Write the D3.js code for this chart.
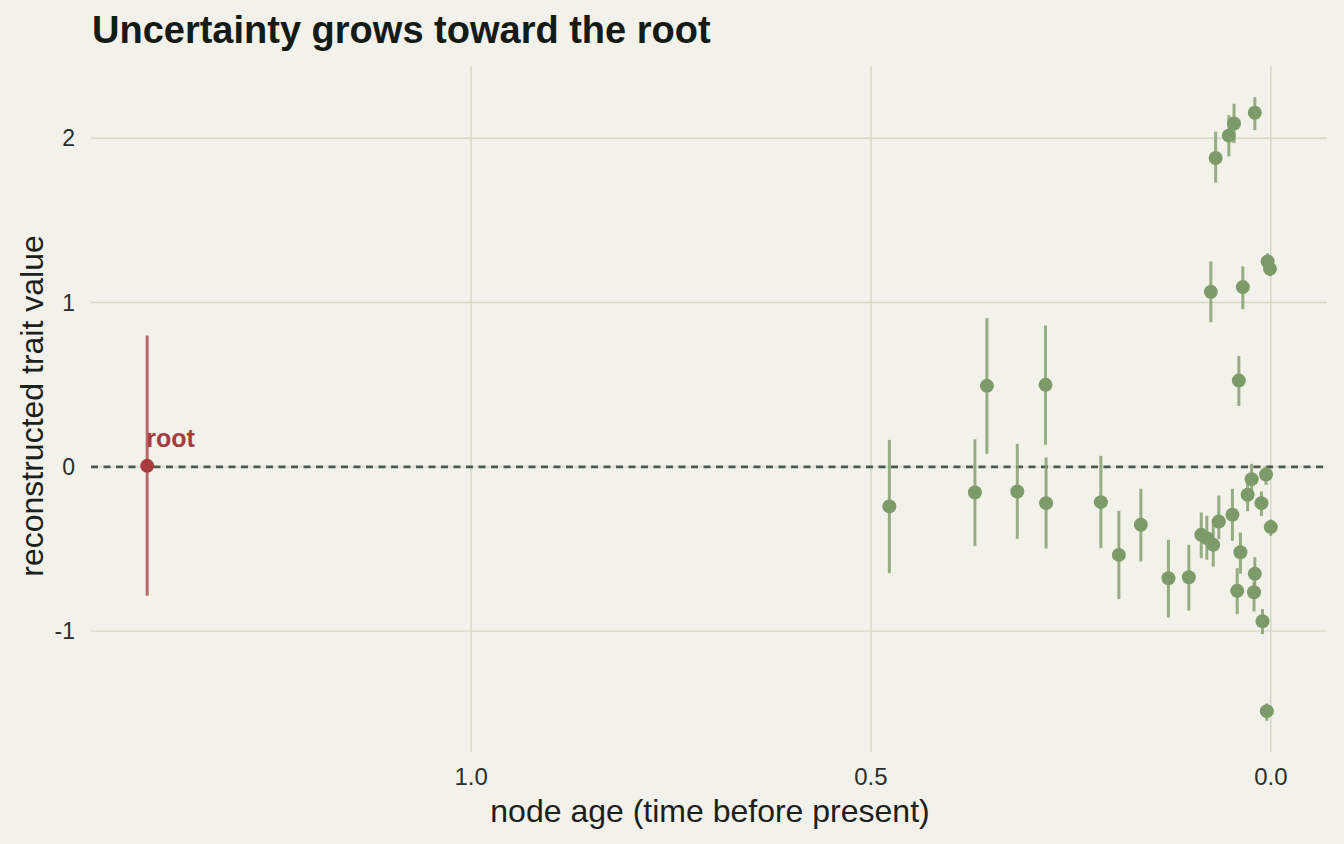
<!DOCTYPE html>
<html>
<head>
<meta charset="utf-8">
<script src="https://cdn.jsdelivr.net/npm/d3@7"></script>
<style>
  body { margin: 0; background: #f2f1ea; }
  svg { display: block; font-family: 'Liberation Sans', Arial, sans-serif; }
</style>
</head>
<body>
<div id="chart"></div>
<script>
// node ages (time before present) and reconstructed values with 95% CI
const nodeAge = [0.020, 0.046, 0.0525, 0.069, 0.004, 0.001, 0.075, 0.035, 0.040,
  0.477, 0.355, 0.370, 0.317, 0.2817, 0.281,
  0.2125, 0.190, 0.1625, 0.128, 0.1025, 0.087, 0.080, 0.072, 0.065, 0.048, 0.038,
  0.024, 0.029, 0.006, 0.0117, 0.000, 0.020, 0.042, 0.021, 0.0104, 0.005]
const nodeValue = [2.155, 2.09, 2.016, 1.88, 1.25, 1.205, 1.065, 1.094, 0.525,
  -0.241, 0.493, -0.156, -0.15, 0.499, -0.221,
  -0.215, -0.536, -0.353, -0.678, -0.672, -0.414, -0.434, -0.475, -0.333, -0.292, -0.52,
  -0.075, -0.17, -0.047, -0.221, -0.367, -0.651, -0.755, -0.763, -0.94, -1.487]
const ciLow = [2.05, 1.97, 1.89, 1.73, 1.20, 1.16, 0.88, 0.96, 0.37,
  -0.647, 0.079, -0.481, -0.438, 0.134, -0.497,
  -0.495, -0.805, -0.576, -0.917, -0.875, -0.556, -0.566, -0.607, -0.44, -0.45, -0.65,
  -0.17, -0.27, -0.11, -0.30, -0.42, -0.75, -0.897, -0.88, -1.018, -1.546]
const ciHigh = [2.25, 2.21, 2.14, 2.04, 1.30, 1.25, 1.25, 1.22, 0.675,
  0.164, 0.905, 0.168, 0.14, 0.86, 0.057,
  0.067, -0.268, -0.134, -0.444, -0.475, -0.278, -0.298, -0.32, -0.175, -0.134, -0.40,
  0.018, -0.10, 0.002, -0.15, -0.32, -0.55, -0.617, -0.70, -0.866, -1.44]
const rootAge = 1.405
const rootValue = 0.006
const rootLow = -0.785
const rootHigh = 0.80
const xTicks = [1.0, 0.5, 0.0]
const yTicks = [-1, 0, 1, 2]

const nodes = nodeAge.map((a, i) => ({ age: a, value: nodeValue[i], lo: ciLow[i], hi: ciHigh[i] }))
const root = { age: rootAge, value: rootValue, lo: rootLow, hi: rootHigh }

const width = 1344
const height = 844
const margin = { top: 66, right: 17, bottom: 92, left: 91 }

const svg = d3.select('#chart').append('svg')
  .attr('width', width)
  .attr('height', height)

svg.append('rect').attr('width', width).attr('height', height).attr('fill', '#f2f1ea')

// ggplot-like 5% expansion
const everything = nodes.concat(root)
const allLo = d3.min(everything, d => d.lo)
const allHi = d3.max(everything, d => d.hi)
const xMax = d3.max(everything, d => d.age)
const xPad = xMax * 0.05
const yPad = (allHi - allLo) * 0.05

const x = d3.scaleLinear()
  .domain([xMax + xPad, -xPad])
  .range([margin.left, width - margin.right])
const y = d3.scaleLinear()
  .domain([allLo - yPad, allHi + yPad])
  .range([height - margin.bottom, margin.top])

const grid = svg.append('g')
grid.selectAll('.gx').data(xTicks).join('line')
  .attr('x1', d => x(d)).attr('x2', d => x(d))
  .attr('y1', margin.top).attr('y2', height - margin.bottom)
  .attr('stroke', '#d6d7c4').attr('stroke-width', 1.4)
grid.selectAll('.gy').data(yTicks).join('line')
  .attr('y1', d => y(d)).attr('y2', d => y(d))
  .attr('x1', margin.left).attr('x2', width - margin.right)
  .attr('stroke', '#d6d7c4').attr('stroke-width', 1.4)

// zero reference line
svg.append('line')
  .attr('x1', margin.left).attr('x2', width - margin.right)
  .attr('y1', y(0)).attr('y2', y(0))
  .attr('stroke', '#4b5a50').attr('stroke-width', 2.6)
  .attr('stroke-dasharray', '7 5.5')

// tick labels
svg.selectAll('.xl').data(xTicks).join('text')
  .attr('x', d => x(d)).attr('y', 785)
  .attr('text-anchor', 'middle')
  .attr('font-size', 24).attr('fill', '#2b2f2c')
  .text(d => d3.format('.1f')(d))
svg.selectAll('.yl').data(yTicks).join('text')
  .attr('x', 75).attr('y', d => y(d) + 8)
  .attr('text-anchor', 'end')
  .attr('font-size', 23).attr('fill', '#2b2f2c')
  .text(d => d)

// axis titles
svg.append('text')
  .attr('x', (margin.left + width - margin.right) / 2 + 1)
  .attr('y', 822)
  .attr('text-anchor', 'middle')
  .attr('font-size', 32).attr('fill', '#1c201d')
  .text('node age (time before present)')
svg.append('text')
  .attr('transform', `translate(43, ${(margin.top + height - margin.bottom) / 2 - 3}) rotate(-90)`)
  .attr('text-anchor', 'middle')
  .attr('font-size', 32).attr('fill', '#1c201d')
  .text('reconstructed trait value')

// title
svg.append('text')
  .attr('x', 92).attr('y', 43)
  .attr('font-size', 38).attr('font-weight', 'bold').attr('fill', '#141a15')
  .text('Uncertainty grows toward the root')

// error bars
const marks = svg.append('g')
marks.selectAll('.ci').data(nodes).join('line')
  .attr('x1', d => x(d.age)).attr('x2', d => x(d.age))
  .attr('y1', d => y(d.lo)).attr('y2', d => y(d.hi))
  .attr('stroke', '#86a172').attr('stroke-opacity', 0.85).attr('stroke-width', 3)
marks.selectAll('.pt').data(nodes).join('circle')
  .attr('cx', d => x(d.age)).attr('cy', d => y(d.value))
  .attr('r', 7).attr('fill', '#7d9a69')

// root
marks.append('line')
  .attr('x1', x(root.age)).attr('x2', x(root.age))
  .attr('y1', y(root.lo)).attr('y2', y(root.hi))
  .attr('stroke', '#b5585a').attr('stroke-opacity', 0.9).attr('stroke-width', 3)
marks.append('circle')
  .attr('cx', x(root.age)).attr('cy', y(root.value))
  .attr('r', 7).attr('fill', '#a63c3f')
marks.append('text')
  .attr('x', x(root.age) - 1).attr('y', y(root.value) - 19)
  .attr('font-size', 25).attr('font-weight', 'bold').attr('fill', '#a63c3f')
  .text('root')
</script>
</body>
</html>
